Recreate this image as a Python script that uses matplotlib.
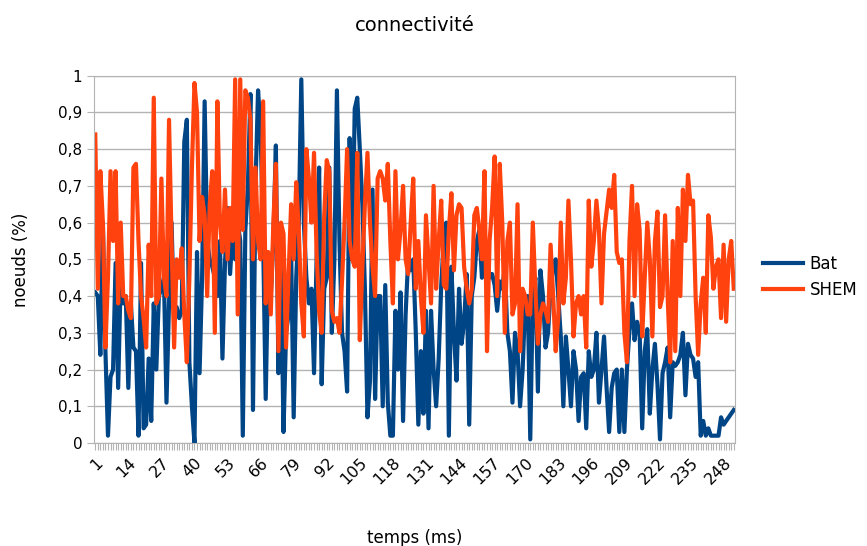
import matplotlib
matplotlib.use("Agg")
from matplotlib import pyplot as plt
from matplotlib.ticker import FuncFormatter, MultipleLocator
import numpy as np

# Connectivité mesurée à chaque pas de temps (proportion de noeuds)
bat = [
    0.41, 0.40, 0.24, 0.60, 0.25, 0.02, 0.18, 0.20, 0.49, 0.15,
    0.45, 0.38, 0.40, 0.15, 0.38, 0.26, 0.25, 0.02, 0.49, 0.04,
    0.05, 0.23, 0.06, 0.38, 0.20, 0.40, 0.42, 0.45, 0.11, 0.38,
    0.60, 0.33, 0.37, 0.34, 0.36, 0.82, 0.88, 0.22, 0.10, 0.00,
    0.52, 0.19, 0.45, 0.93, 0.55, 0.50, 0.48, 0.45, 0.40, 0.55,
    0.23, 0.49, 0.64, 0.46, 0.58, 0.50, 0.60, 0.55, 0.02, 0.58,
    0.70, 0.95, 0.09, 0.70, 0.96, 0.85, 0.55, 0.12, 0.49, 0.40,
    0.55, 0.81, 0.19, 0.50, 0.03, 0.30, 0.35, 0.52, 0.07, 0.45,
    0.60, 0.99, 0.60, 0.45, 0.38, 0.42, 0.19, 0.50, 0.75, 0.16,
    0.42, 0.45, 0.75, 0.30, 0.50, 0.96, 0.55, 0.30, 0.25, 0.14,
    0.83, 0.50, 0.91, 0.94, 0.80, 0.65, 0.42, 0.07, 0.17, 0.69,
    0.12, 0.40, 0.40, 0.10, 0.43, 0.11, 0.02, 0.02, 0.36, 0.20,
    0.41, 0.06, 0.35, 0.50, 0.47, 0.50, 0.30, 0.05, 0.25, 0.08,
    0.36, 0.04, 0.36, 0.20, 0.10, 0.23, 0.43, 0.55, 0.60, 0.02,
    0.48, 0.30, 0.17, 0.42, 0.27, 0.33, 0.46, 0.05, 0.40, 0.45,
    0.55, 0.58, 0.45, 0.50, 0.52, 0.45, 0.46, 0.43, 0.36, 0.44,
    0.42, 0.48, 0.30, 0.25, 0.11, 0.30, 0.25, 0.10, 0.20, 0.38,
    0.40, 0.01, 0.40, 0.45, 0.14, 0.47, 0.40, 0.26, 0.30, 0.42,
    0.48, 0.50, 0.40, 0.29, 0.10, 0.29, 0.20, 0.10, 0.25, 0.20,
    0.06, 0.18, 0.19, 0.04, 0.25, 0.18, 0.20, 0.30, 0.11, 0.20,
    0.29, 0.15, 0.03, 0.15, 0.19, 0.20, 0.03, 0.20, 0.03, 0.20,
    0.31, 0.38, 0.28, 0.33, 0.30, 0.04, 0.25, 0.31, 0.08, 0.20,
    0.27, 0.16, 0.01, 0.19, 0.22, 0.26, 0.07, 0.22, 0.21, 0.22,
    0.24, 0.30, 0.13, 0.27, 0.24, 0.23, 0.18, 0.22, 0.02, 0.06,
    0.02, 0.04, 0.02, 0.02, 0.02, 0.02, 0.07, 0.05, 0.06, 0.07,
    0.08, 0.09,
]

shem = [
    0.84, 0.42, 0.74, 0.60, 0.26, 0.45, 0.74, 0.55, 0.74, 0.38,
    0.60, 0.40, 0.40, 0.36, 0.34, 0.75, 0.76, 0.55, 0.40, 0.34,
    0.26, 0.54, 0.40, 0.94, 0.38, 0.40, 0.72, 0.45, 0.40, 0.88,
    0.55, 0.26, 0.50, 0.45, 0.53, 0.35, 0.22, 0.45, 0.75, 0.98,
    0.90, 0.55, 0.67, 0.62, 0.40, 0.65, 0.74, 0.30, 0.93, 0.60,
    0.52, 0.69, 0.50, 0.64, 0.55, 0.99, 0.35, 0.99, 0.58, 0.96,
    0.94, 0.88, 0.50, 0.75, 0.55, 0.50, 0.93, 0.38, 0.52, 0.35,
    0.60, 0.76, 0.25, 0.60, 0.57, 0.26, 0.46, 0.65, 0.50, 0.71,
    0.58, 0.38, 0.29, 0.80, 0.72, 0.60, 0.79, 0.52, 0.36, 0.30,
    0.62, 0.77, 0.74, 0.36, 0.33, 0.34, 0.30, 0.44, 0.60, 0.80,
    0.55, 0.50, 0.48, 0.79, 0.28, 0.48, 0.65, 0.79, 0.60, 0.48,
    0.40, 0.72, 0.74, 0.72, 0.66, 0.76, 0.55, 0.38, 0.74, 0.50,
    0.58, 0.70, 0.50, 0.46, 0.60, 0.72, 0.42, 0.55, 0.40, 0.30,
    0.62, 0.50, 0.38, 0.70, 0.42, 0.55, 0.66, 0.43, 0.42, 0.58,
    0.68, 0.47, 0.62, 0.65, 0.64, 0.48, 0.42, 0.38, 0.42, 0.62,
    0.64, 0.58, 0.50, 0.74, 0.25, 0.55, 0.64, 0.78, 0.40, 0.76,
    0.60, 0.30, 0.55, 0.60, 0.35, 0.38, 0.65, 0.25, 0.42, 0.40,
    0.35, 0.35, 0.60, 0.42, 0.27, 0.35, 0.38, 0.36, 0.33, 0.54,
    0.40, 0.25, 0.34, 0.60, 0.38, 0.45, 0.66, 0.50, 0.29, 0.38,
    0.40, 0.35, 0.40, 0.26, 0.66, 0.48, 0.55, 0.66, 0.58, 0.38,
    0.57, 0.63, 0.69, 0.64, 0.73, 0.52, 0.49, 0.50, 0.30, 0.22,
    0.55, 0.70, 0.40, 0.65, 0.58, 0.29, 0.45, 0.60, 0.50, 0.29,
    0.55, 0.63, 0.37, 0.40, 0.62, 0.40, 0.22, 0.55, 0.25, 0.64,
    0.40, 0.69, 0.55, 0.73, 0.65, 0.66, 0.40, 0.24, 0.38, 0.45,
    0.30, 0.62, 0.56, 0.42, 0.48, 0.50, 0.34, 0.54, 0.33, 0.50,
    0.55, 0.42,
]

temps = np.arange(1, len(bat) + 1)
labels_x = list(range(1, 249, 13))

fig = plt.figure(figsize=(8.67, 5.46), dpi=100)
ax = fig.add_axes([0.1084, 0.1886, 0.7394, 0.6728])

gris = "#b3b3b3"
ax.plot(temps, bat, color="#004586", linewidth=3.0, label="Bat", solid_joinstyle="round")
ax.plot(temps, shem, color="#ff420e", linewidth=3.0, label="SHEM", solid_joinstyle="round")

ax.set_xlim(0.5, len(bat) + 0.5)
ax.set_ylim(0, 1)
ax.yaxis.set_major_locator(MultipleLocator(0.1))
ax.yaxis.set_major_formatter(FuncFormatter(lambda v, p: ("%g" % round(v, 1)).replace(".", ",")))
ax.grid(axis="y", color=gris, linewidth=1)
ax.set_axisbelow(True)

ax.set_xticks(labels_x)
ax.set_xticklabels([str(v) for v in labels_x], rotation=45, ha="right", va="top",
                   rotation_mode="anchor", fontsize=11.5)
ax.set_xticks(temps, minor=True)
ax.tick_params(axis="x", which="both", length=5, color=gris, width=0.8)
ax.tick_params(axis="y", length=5, color=gris, labelsize=11)

for s in ax.spines.values():
    s.set_color(gris)

ax.set_title("connectivité", fontsize=14, pad=32)
ax.set_xlabel("temps (ms)", fontsize=12, labelpad=30)
ax.set_ylabel("noeuds (%)", fontsize=12, labelpad=20)

ax.legend(loc="center left", bbox_to_anchor=(1.02, 0.452), frameon=False,
          fontsize=12, handlelength=2.4, handletextpad=0.4, labelspacing=0.5)

fig.savefig("out.png", dpi=100)
